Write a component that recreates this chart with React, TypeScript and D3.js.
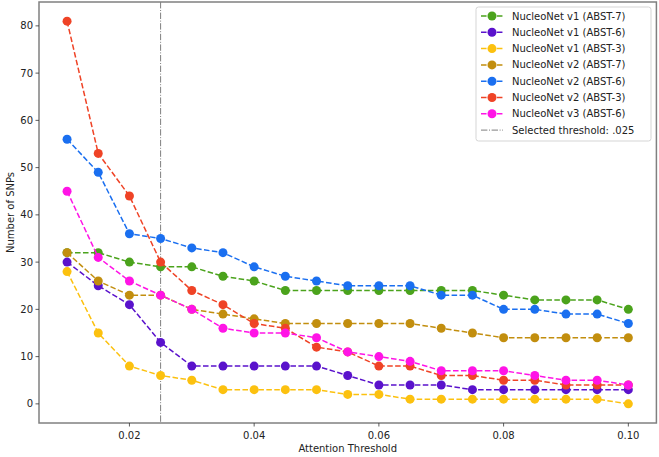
import React from "react";
import * as d3 from "d3";

const thresholds = [0.01, 0.015, 0.02, 0.025, 0.03, 0.035, 0.04, 0.045, 0.05, 0.055, 0.06, 0.065, 0.07, 0.075, 0.08, 0.085, 0.09, 0.095, 0.1];

const v1Abst7 = [32, 32, 30, 29, 29, 27, 26, 24, 24, 24, 24, 24, 24, 24, 23, 22, 22, 22, 20];
const v1Abst6 = [30, 25, 21, 13, 8, 8, 8, 8, 8, 6, 4, 4, 4, 3, 3, 3, 3, 3, 3];
const v1Abst3 = [28, 15, 8, 6, 5, 3, 3, 3, 3, 2, 2, 1, 1, 1, 1, 1, 1, 1, 0];
const v2Abst7 = [32, 26, 23, 23, 20, 19, 18, 17, 17, 17, 17, 17, 16, 15, 14, 14, 14, 14, 14];
const v2Abst6 = [56, 49, 36, 35, 33, 32, 29, 27, 26, 25, 25, 25, 23, 23, 20, 20, 19, 19, 17];
const v2Abst3 = [81, 53, 44, 30, 24, 21, 17, 16, 12, 11, 8, 8, 6, 6, 5, 5, 4, 4, 4];
const v3Abst6 = [45, 31, 26, 23, 20, 16, 15, 15, 14, 11, 10, 9, 7, 7, 7, 6, 5, 5, 4];

const seriesNames = [
  "NucleoNet v1 (ABST-7)",
  "NucleoNet v1 (ABST-6)",
  "NucleoNet v1 (ABST-3)",
  "NucleoNet v2 (ABST-7)",
  "NucleoNet v2 (ABST-6)",
  "NucleoNet v2 (ABST-3)",
  "NucleoNet v3 (ABST-6)",
];
const seriesValues = [v1Abst7, v1Abst6, v1Abst3, v2Abst7, v2Abst6, v2Abst3, v3Abst6];
const seriesColors = ["#4ba31c", "#5a12cc", "#fcc10f", "#c28e0e", "#1a6ff0", "#ef4326", "#ff14e6"];

const selectedThreshold = 0.025;
const xTicks = [0.02, 0.04, 0.06, 0.08, 0.1];
const yTicks = [0, 10, 20, 30, 40, 50, 60, 70, 80];

const W = 659;
const H = 457;
const left = 39;
const right = 656.4;
const top = 2;
const bottom = 423;

export default function App() {
  const x = d3.scaleLinear().domain([0.0055, 0.1045]).range([left, right]);
  const y = d3.scaleLinear().domain([-4.05, 85.05]).range([bottom, top]);
  const line = d3
    .line<number>()
    .x((_, i) => x(thresholds[i]))
    .y((d) => y(d));
  const font = "DejaVu Sans, sans-serif";
  const legendX = 476;
  const legendY = 7;
  const rowH = 16.3;

  return (
    <svg
      width={W}
      height={H}
      style={{ position: "absolute", left: 0, top: 0, background: "#fff" }}
      fontFamily={font}
    >
      <rect x={0} y={0} width={W} height={H} fill="#fff" />
      {/* selected threshold */}
      <line
        x1={x(selectedThreshold)}
        x2={x(selectedThreshold)}
        y1={top}
        y2={bottom}
        stroke="#7f7f7f"
        strokeWidth={1}
        strokeDasharray="6.4,1.6,1,1.6"
      />
      {seriesValues.map((vals, si) => (
        <g key={si}>
          <path
            d={line(vals) || ""}
            fill="none"
            stroke={seriesColors[si]}
            strokeWidth={1.5}
            strokeDasharray="5.55,2.4"
          />
          {vals.map((v, i) => (
            <circle key={i} cx={x(thresholds[i])} cy={y(v)} r={4.5} fill={seriesColors[si]} />
          ))}
        </g>
      ))}
      {/* frame */}
      <rect
        x={left}
        y={top}
        width={right - left}
        height={bottom - top}
        fill="none"
        stroke="#808080"
        strokeWidth={1.5}
      />
      {/* x ticks */}
      {xTicks.map((t) => (
        <g key={t}>
          <line x1={x(t)} x2={x(t)} y1={bottom} y2={bottom + 3.5} stroke="#333" strokeWidth={0.8} />
          <text x={x(t)} y={bottom + 16} textAnchor="middle" fontSize={10} fill="#222">
            {t.toFixed(2)}
          </text>
        </g>
      ))}
      {yTicks.map((t) => (
        <g key={t}>
          <line x1={left - 3.5} x2={left} y1={y(t)} y2={y(t)} stroke="#333" strokeWidth={0.8} />
          <text x={left - 6} y={y(t)} dy="0.35em" textAnchor="end" fontSize={10} fill="#222">
            {t}
          </text>
        </g>
      ))}
      <text x={(left + right) / 2} y={452} textAnchor="middle" fontSize={10} fill="#222">
        Attention Threshold
      </text>
      <text
        transform={`translate(10.5,${(top + bottom) / 2}) rotate(-90)`}
        textAnchor="middle"
        fontSize={10}
        dy="0.35em"
        fill="#222"
      >
        Number of SNPs
      </text>
      {/* legend */}
      <rect
        x={legendX}
        y={legendY}
        width={175}
        height={134}
        rx={2.5}
        fill="#fff"
        fillOpacity={0.8}
        stroke="#d5d5d5"
        strokeWidth={1}
      />
      {seriesNames.map((name, i) => {
        const cy = legendY + 9 + i * rowH;
        return (
          <g key={name}>
            <line
              x1={legendX + 5}
              x2={legendX + 27}
              y1={cy}
              y2={cy}
              stroke={seriesColors[i]}
              strokeWidth={1.5}
              strokeDasharray="5.55,2.4"
            />
            <circle cx={legendX + 16} cy={cy} r={4.5} fill={seriesColors[i]} />
            <text x={legendX + 36} y={cy} dy="0.35em" fontSize={10} fill="#222">
              {name}
            </text>
          </g>
        );
      })}
      {(() => {
        const cy = legendY + 9 + 7 * rowH;
        return (
          <g>
            <line
              x1={legendX + 5}
              x2={legendX + 27}
              y1={cy}
              y2={cy}
              stroke="#7f7f7f"
              strokeWidth={1}
              strokeDasharray="6.4,1.6,1,1.6"
            />
            <text x={legendX + 36} y={cy} dy="0.35em" fontSize={10} fill="#222">
              Selected threshold: .025
            </text>
          </g>
        );
      })()}
    </svg>
  );
}
